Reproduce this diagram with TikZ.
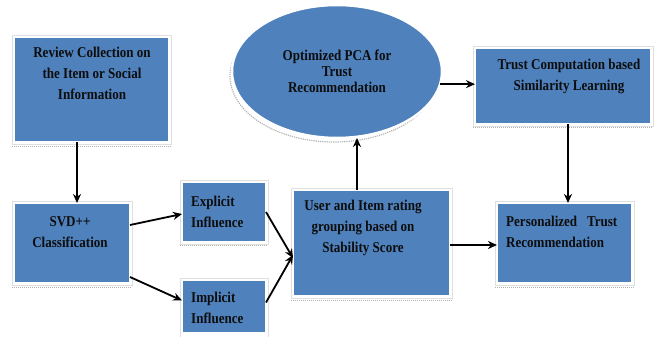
\documentclass[tikz,border=0pt]{standalone}
\usepackage{fontspec}
\setmainfont{Liberation Serif}[FakeStretch=0.87]
\usetikzlibrary{shapes.geometric,arrows.meta}
\definecolor{boxblue}{HTML}{4F81BD}
\tikzset{
  box/.style={rectangle, fill=boxblue, draw=white, line width=1.5pt, inner sep=0pt, outer sep=0pt},
  frame/.style={draw=gray!25, line width=0.6pt},
  shad/.style={draw=gray!60, line width=1pt, densely dotted},
  txt/.style={font=\fontsize{15}{21}\selectfont\bfseries, text=black!95, inner sep=0pt},
  arr/.style={-{Stealth[length=9pt,width=8pt]}, line width=1.8pt, black}
}
\begin{document}
\begin{tikzpicture}[x=1pt,y=-1pt]
\useasboundingbox (0,0) rectangle (654,337);
% shadow lines under boxes
\foreach \a/\b/\y in {12/171/146, 12/132/287, 180/268/245, 291/452/300, 495/634/287, 473/653/128}
  \draw[shad] (\a,\y) -- (\b,\y);
% outer frames
\foreach \a/\b/\c/\d in {12/35/171/144, 12/201/132/285, 180/180/268/244, 180/278/268/337, 291/188/452/298, 495/201/634/285, 473/46/653/126}
  \draw[frame] (\a,\b) rectangle (\c,\d);
% boxes
\node[box, minimum width=155pt, minimum height=105pt] (review) at (91.5,89.5) {};
\node[box, minimum width=116pt, minimum height=80pt] (svd) at (72,243) {};
\node[box, minimum width=84pt, minimum height=60pt] (explicit) at (224,212) {};
\node[box, minimum width=84pt, minimum height=53pt] (implicit) at (224,306.5) {};
\node[box, minimum width=157pt, minimum height=106pt] (user) at (371.5,243) {};
\node[box, minimum width=135pt, minimum height=80pt] (pers) at (564.5,243) {};
\node[box, minimum width=176pt, minimum height=76pt] (trust) at (563,86) {};
% ellipse with shadow
\node[ellipse, draw=gray!60, line width=1.2pt, densely dotted, minimum width=208pt, minimum height=132pt] (ellsh) at (334,76) {};
\node[ellipse, fill=boxblue, draw=white, line width=2.5pt, minimum width=210pt, minimum height=133pt, inner sep=0pt, outer sep=0pt] (ell) at (337,71.5) {};
% texts
\node[txt, align=center] (reviewt) at (92,73) {Review Collection on\\the Item or Social\\Information};
\node[txt, align=center] (svdt) at (70,232) {SVD++\\Classification};
\node[txt, align=left, anchor=west] (explicitt) at (191,212) {Explicit\\Influence};
\node[txt, align=left, anchor=west] (implicitt) at (191,308) {Implicit\\Influence};
\node[txt, align=center] (usert) at (363,228) {User and Item rating\\grouping based on\\Stability Score};
\node[txt, align=left, anchor=west] (perst) at (506,232) {Personalized\ \ \ Trust\\Recommendation};
\node[txt, align=center] (trustt) at (569,76) {Trust Computation based\\Similarity Learning};
\node[txt, align=center, font=\fontsize{15}{16}\selectfont\bfseries] (ellt) at (337,71) {Optimized PCA for\\Trust\\Recommendation};
% arrows
\coordinate (upfoot) at ([xshift=-14.5pt]user.north);
\draw[arr] ([xshift=5pt]svd.north |- review.south) -- ([xshift=5pt]svd.north);
\draw[arr] ([yshift=18pt]svd.east) -- ([yshift=-2pt]explicit.west);
\draw[arr] ([yshift=-34pt]svd.east) -- ([yshift=6pt]implicit.west);
\draw[arr] ([yshift=0pt]explicit.east) -- ([yshift=-15pt]user.west);
\draw[arr] ([yshift=4pt]implicit.east) -- ([yshift=-12pt]user.west);
\draw[arr] (upfoot) -- (upfoot |- ell.south);
\draw[arr] (ell.-7.5) -- (ell.-7.5 -| trust.west);
\draw[arr] ([xshift=5pt]trust.south) -- ([xshift=5pt]trust.south |- pers.north);
\draw[arr] ([yshift=-2pt]user.east) -- ([yshift=-2pt]user.east -| pers.west);
\end{tikzpicture}
\end{document}
